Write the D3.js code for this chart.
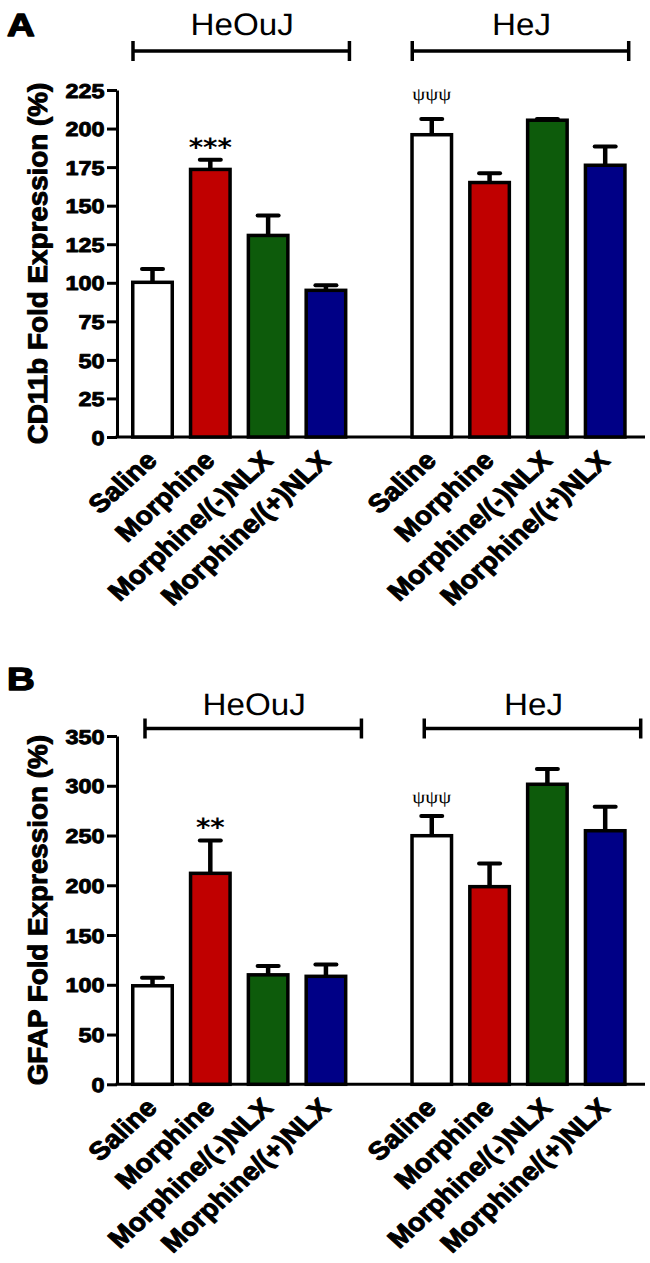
<!DOCTYPE html>
<html>
<head>
<meta charset="utf-8">
<script src="https://cdn.jsdelivr.net/npm/d3@7"></script>
<style>
  html, body { margin: 0; padding: 0; background: #fff; }
  svg { display: block; }
</style>
</head>
<body>
<div id="chart"></div>
<script>
// ---------- data ----------
const groups = ["HeOuJ", "HeJ"];
const treatments = ["Saline", "Morphine", "Morphine/(-)NLX", "Morphine/(+)NLX"];
const barColors = ["#ffffff", "#c00000", "#0d5b0b", "#000086"];

const cd11bHeOuJ    = [100.3, 173.5, 130.7, 95.1];
const cd11bHeOuJSem = [8.6, 6.2, 12.9, 3.3];
const cd11bHeJ      = [196.0, 165.0, 205.4, 176.2];
const cd11bHeJSem   = [10.2, 6.0, 0.8, 12.2];

const gfapHeOuJ     = [99.0, 212.0, 110.0, 108.5];
const gfapHeOuJSem  = [8.0, 33.0, 9.0, 12.0];
const gfapHeJ       = [249.8, 198.6, 301.5, 254.8];
const gfapHeJSem    = [19.8, 23.4, 15.3, 24.2];

const cd11bTicks = [0, 25, 50, 75, 100, 125, 150, 175, 200, 225];
const gfapTicks  = [0, 50, 100, 150, 200, 250, 300, 350];

// [group, treatment, text, value at text baseline]
const cd11bMarks = [["HeOuJ", "Morphine", "***", 182.4], ["HeJ", "Saline", "ψψψ", 218.8]];
const gfapMarks  = [["HeOuJ", "Morphine", "**", 249.8], ["HeJ", "Saline", "ψψψ", 282.5]];

// ---------- layout ----------
const W = 650, H = 1263;
const SANS = "'Liberation Sans', Arial, Helvetica, sans-serif";
const SERIF = "'Liberation Serif', 'Times New Roman', serif";

const svg = d3.select("#chart").append("svg")
  .attr("width", W).attr("height", H)
  .attr("text-rendering", "geometricPrecision");

function heavy(sel, w) {
  return sel.attr("stroke", "#000").attr("stroke-width", w)
    .attr("stroke-linejoin", "round").attr("paint-order", "stroke");
}

const x0 = d3.scaleBand().domain(groups).range([123.6, 634.1]).paddingInner(0.172).paddingOuter(0);
const x1 = d3.scaleBand().domain(treatments).range([0, x0.bandwidth()]).paddingInner(0.256).paddingOuter(0.128);

const panels = [
  { letter: "A", letterBase: 36, title: "CD11b Fold Expression (%)", yRange: [437, 90], max: 225, ticks: cd11bTicks,
    data: { HeOuJ: [cd11bHeOuJ, cd11bHeOuJSem], HeJ: [cd11bHeJ, cd11bHeJSem] }, marks: cd11bMarks,
    bracketY: 51, bracketOff: 2, groupBase: 35 },
  { letter: "B", letterBase: 690, title: "GFAP Fold Expression (%)", yRange: [1084.3, 736], max: 350, ticks: gfapTicks,
    data: { HeOuJ: [gfapHeOuJ, gfapHeOuJSem], HeJ: [gfapHeJ, gfapHeJSem] }, marks: gfapMarks,
    bracketY: 728.5, bracketOff: 14, groupBase: 714.5 }
];

const axisX = 117, axisRight = 645;

panels.forEach(p => {
  const g = svg.append("g");
  const y = d3.scaleLinear().domain([0, p.max]).range(p.yRange);
  const y0 = y(0);

  // panel letter
  heavy(g.append("text")
    .attr("transform", `translate(7,${p.letterBase}) scale(1.2,1)`)
    .attr("font-family", SANS).attr("font-weight", "bold").attr("font-size", 32)
    .text(p.letter), 1.4);

  // y axis
  const yAxis = d3.axisLeft(y).tickValues(p.ticks).tickSize(10).tickSizeOuter(0).tickPadding(0);
  const ag = g.append("g").attr("transform", `translate(${axisX},0)`).call(yAxis);
  ag.select(".domain").attr("stroke", "#000").attr("stroke-width", 3);
  ag.selectAll(".tick line").attr("stroke", "#000").attr("stroke-width", 3);
  heavy(ag.selectAll(".tick text")
    .attr("x", null).attr("dy", "0.36em")
    .attr("transform", `translate(-12.5,0) scale(1.17,1)`)
    .attr("font-family", SANS).attr("font-weight", "bold").attr("font-size", 20)
    .attr("fill", "#000").attr("text-anchor", "end"), 0.9);

  // y title
  heavy(g.append("text")
    .attr("transform", `translate(46.5,${(p.yRange[0] + p.yRange[1]) / 2}) rotate(-90) scale(1.03,1)`)
    .attr("text-anchor", "middle")
    .attr("font-family", SANS).attr("font-weight", "bold").attr("font-size", 27)
    .text(p.title), 1.0);

  // x axis line
  g.append("path")
    .attr("d", d3.line()([[axisX - 1.5, y0], [axisRight, y0]]))
    .attr("stroke", "#000").attr("stroke-width", 3).attr("fill", "none");

  groups.forEach(grp => {
    const [vals, sems] = p.data[grp];
    const gx = x0(grp);

    // bars
    treatments.forEach((t, i) => {
      const bx = gx + x1(t);
      g.append("rect")
        .attr("x", bx + 1.75).attr("width", x1.bandwidth() - 3.5)
        .attr("y", y(vals[i])).attr("height", y0 - y(vals[i]))
        .attr("fill", barColors[i]).attr("stroke", "#000").attr("stroke-width", 3.5);
    });
    // error bars
    treatments.forEach((t, i) => {
      const cx = gx + x1(t) + x1.bandwidth() / 2;
      const top = y(vals[i] + sems[i]);
      g.append("line")
        .attr("x1", cx).attr("x2", cx).attr("y1", y(vals[i])).attr("y2", top)
        .attr("stroke", "#000").attr("stroke-width", 4.5);
      g.append("line")
        .attr("x1", cx - 10.5).attr("x2", cx + 10.5).attr("y1", top).attr("y2", top)
        .attr("stroke", "#000").attr("stroke-width", 4).attr("stroke-linecap", "round");
    });
    // category labels
    treatments.forEach((t, i) => {
      const cx = gx + x1(t) + x1.bandwidth() / 2;
      heavy(g.append("text")
        .attr("transform", `translate(${cx + 6},${y0 + 25}) scale(1.1,1) rotate(-45)`)
        .attr("text-anchor", "end")
        .attr("font-family", SANS).attr("font-weight", "bold").attr("font-size", 25.5)
        .text(t), 1.0);
    });

    // bracket
    const bl = gx + x1(treatments[0]) + p.bracketOff;
    const br = gx + x1(treatments[3]) + x1.bandwidth() + p.bracketOff;
    g.append("path")
      .attr("d", d3.line()([[bl, p.bracketY], [br, p.bracketY]]))
      .attr("stroke", "#000").attr("stroke-width", 3.5);
    [bl, br].forEach(bx => g.append("path")
      .attr("d", d3.line()([[bx, p.bracketY - 10], [bx, p.bracketY + 10]]))
      .attr("stroke", "#000").attr("stroke-width", 3.5));
    g.append("text")
      .attr("transform", `translate(${(bl + br) / 2 + 1},${p.groupBase}) scale(1.07,1)`)
      .attr("text-anchor", "middle")
      .attr("font-family", SANS).attr("font-size", 31)
      .text(grp);
  });

  // significance marks
  p.marks.forEach(([grp, t, txt, v]) => {
    const cx = x0(grp) + x1(t) + x1.bandwidth() / 2;
    const isPsi = txt.indexOf("ψ") >= 0;
    g.append("text")
      .attr("transform", `translate(${cx},${y(v)}) scale(${isPsi ? 1.15 : 1.1},1)`)
      .attr("text-anchor", "middle")
      .attr("fill", "#000")
      .attr("font-family", isPsi ? SERIF : "'DejaVu Sans', sans-serif")
      .attr("font-weight", isPsi ? "normal" : "bold")
      .attr("font-size", isPsi ? 18 : 25)
      .text(txt);
  });
});
</script>
</body>
</html>
